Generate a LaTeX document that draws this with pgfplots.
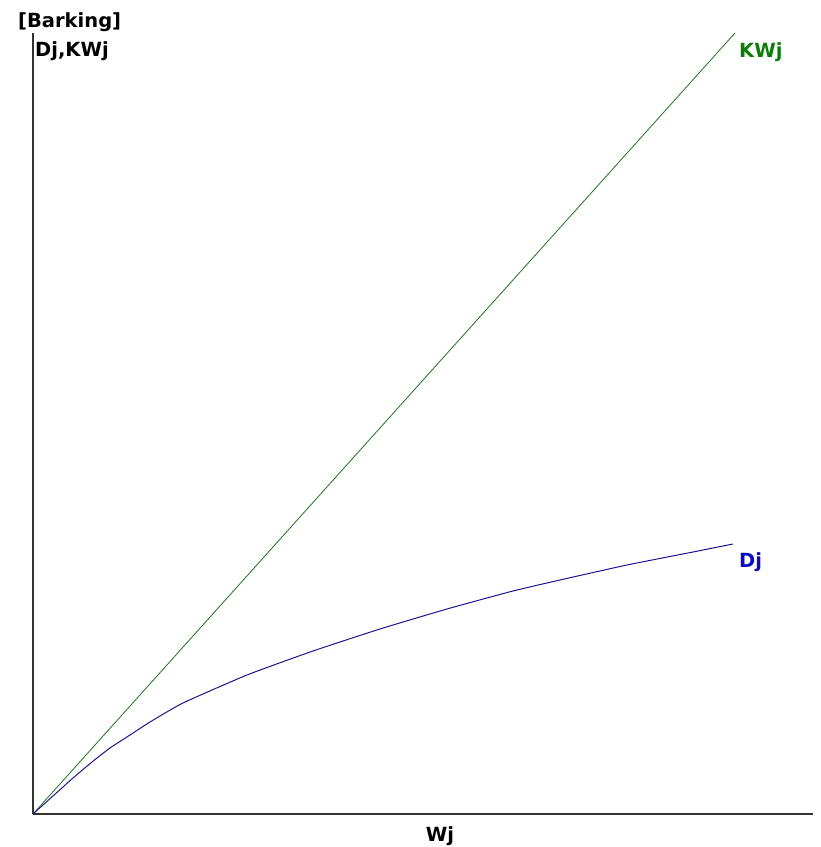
\documentclass[border=0pt]{standalone}
\usepackage{pgfplots}
\pgfplotsset{compat=1.18}
\usepackage{fontspec}
\setmainfont{DejaVu Sans}
\definecolor{kwgreen}{RGB}{30,115,30}
\definecolor{kwlabel}{RGB}{10,125,10}
\definecolor{djblue}{RGB}{30,20,140}
\definecolor{djlabel}{RGB}{10,10,200}
\begin{document}
\begin{tikzpicture}
\path (-33bp,-33bp) rectangle (788bp,814bp);
\begin{axis}[
  at={(0,0)}, anchor=south west,
  scale only axis, width=780bp, height=781bp,
  xmin=0, xmax=780, ymin=0, ymax=781,
  axis x line=bottom, axis y line=left,
  axis line style={-, line width=1.3bp, black!80},
  xtick=\empty, ytick=\empty,
  clip=false,
]
\addplot[kwgreen, line width=0.8bp] coordinates {(0,0) (702,781)};
\addplot[djblue, line width=1bp, smooth, tension=0.3] coordinates {
(0,0) (20,18) (40,36) (59,52) (77,66) (97,79) (117,92) (150,111)
(214,139) (280,163) (347,185) (414,205) (480,223) (527,234)
(594,249) (660,262) (700,270)};
\end{axis}
\begin{scope}[every node/.style={inner sep=0pt, font=\bfseries\fontsize{19.5bp}{23bp}\selectfont}]
\node[anchor=base west] at (-15bp,786bp) {[Barking]};
\node[anchor=base west] at (2bp,757bp) {Dj,KWj};
\node[anchor=base west, text=kwlabel] at (706bp,756bp) {KWj};
\node[anchor=base west, text=djlabel] at (706bp,246bp) {Dj};
\node[anchor=base] at (407bp,-27bp) {Wj};
\end{scope}
\end{tikzpicture}
\end{document}
